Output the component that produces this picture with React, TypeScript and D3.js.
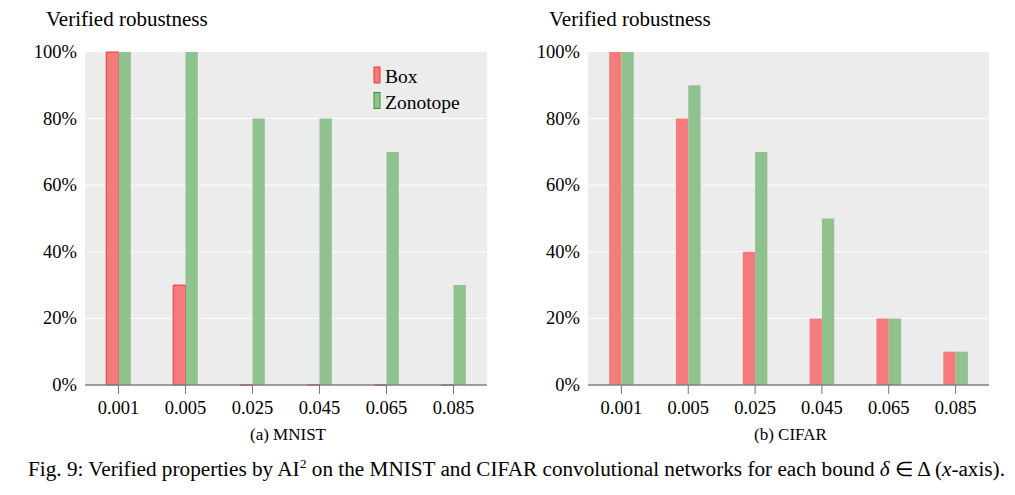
import * as d3 from "d3";
import React from "react";

const BOUNDS = ["0.001", "0.005", "0.025", "0.045", "0.065", "0.085"];
const MNIST_BOX = [100, 30, 0, 0, 0, 0];
const MNIST_ZONOTOPE = [100, 100, 80, 80, 70, 30];
const CIFAR_BOX = [100, 80, 40, 20, 20, 10];
const CIFAR_ZONOTOPE = [100, 90, 70, 50, 20, 10];
const Y_TICKS = [0, 20, 40, 60, 80, 100];

const FONT = "Liberation Serif";
const BG = "#ececec";
const RED = "#f47b7b";
const GREEN = "#8fc28e";

const TOP = 52;
const BOTTOM = 385;
const BAR_W = 12.3;

// bar as a path so a zero-height bar still shows its outline
function barPath(x0, w, y0, y1) {
  const p = d3.path();
  p.moveTo(x0, y0);
  p.lineTo(x0, y1);
  p.lineTo(x0 + w, y1);
  p.lineTo(x0 + w, y0);
  p.closePath();
  return p.toString();
}

function Panel({ left, right, box, zono, caption, legend, boxStroke }) {
  const x = d3.scaleBand().domain(BOUNDS).range([left, right]).padding(0);
  const y = d3.scaleLinear().domain([0, 100]).range([BOTTOM, TOP]);
  const center = (b) => x(b) + x.bandwidth() / 2;

  return (
    <g>
      <text x={left - 39} y={26} fontSize={21} fontFamily={FONT}>
        Verified robustness
      </text>
      <rect x={left} y={TOP} width={right - left} height={BOTTOM - TOP} fill={BG} />
      {Y_TICKS.slice(1, -1).map((t) => (
        <line key={t} x1={left} x2={right} y1={y(t)} y2={y(t)} stroke="#fff" strokeWidth={1} />
      ))}
      {BOUNDS.map((b, i) => (
        <g key={b}>
          <path
            d={barPath(center(b) - BAR_W, BAR_W, y(0), y(box[i]))}
            fill={RED}
            stroke={boxStroke ? "#e8393b" : "none"}
            strokeWidth={1}
          />
          <path d={barPath(center(b), BAR_W, y(0), y(zono[i]))} fill={GREEN} />
        </g>
      ))}
      <line x1={left} x2={right} y1={BOTTOM} y2={BOTTOM} stroke="#808080" strokeWidth={1.5} />
      {BOUNDS.map((b) => (
        <g key={b}>
          <line x1={center(b)} x2={center(b)} y1={BOTTOM} y2={BOTTOM + 9} stroke="#777" strokeWidth={1} />
          <text x={center(b)} y={BOTTOM + 29} textAnchor="middle" fontSize={18.5} fontFamily={FONT}>
            {b}
          </text>
        </g>
      ))}
      {Y_TICKS.map((t) => (
        <text key={t} x={left - 8} y={y(t) + 6} textAnchor="end" fontSize={18.5} fontFamily={FONT}>
          {t}%
        </text>
      ))}
      {legend && (
        <g>
          <rect x={left + 289} y={67} width={6} height={16} fill={RED} stroke="#e8393b" strokeWidth={1} />
          <text x={left + 300} y={83} fontSize={19.5} fontFamily={FONT}>Box</text>
          <rect x={left + 289} y={92.5} width={6} height={16} fill={GREEN} stroke="#2f9a2f" strokeWidth={1} />
          <text x={left + 300} y={108.5} fontSize={19.5} fontFamily={FONT}>Zonotope</text>
        </g>
      )}
      <text x={(left + right) / 2 + 2} y={440} textAnchor="middle" fontSize={17} fontFamily={FONT}>
        {caption}
      </text>
    </g>
  );
}

export default function App() {
  return (
    <div style={{ position: "absolute", left: 0, top: 0 }}>
      <svg width={1015} height={495} style={{ display: "block", background: "#fff" }}>
        <Panel left={85} right={487} box={MNIST_BOX} zono={MNIST_ZONOTOPE} caption="(a) MNIST" legend boxStroke />
        <Panel left={588} right={989} box={CIFAR_BOX} zono={CIFAR_ZONOTOPE} caption="(b) CIFAR" legend={false} boxStroke={false} />
        <text x={28} y={476} fontSize={20} fontFamily={FONT} textLength={977} lengthAdjust="spacingAndGlyphs">
          Fig. 9: Verified properties by AI<tspan dy={-8} fontSize={13}>2</tspan>
          <tspan dy={8}> on the MNIST and CIFAR convolutional networks for each bound </tspan>
          <tspan fontStyle="italic">δ</tspan> ∈ Δ (<tspan fontStyle="italic">x</tspan>-axis).
        </text>
      </svg>
    </div>
  );
}
